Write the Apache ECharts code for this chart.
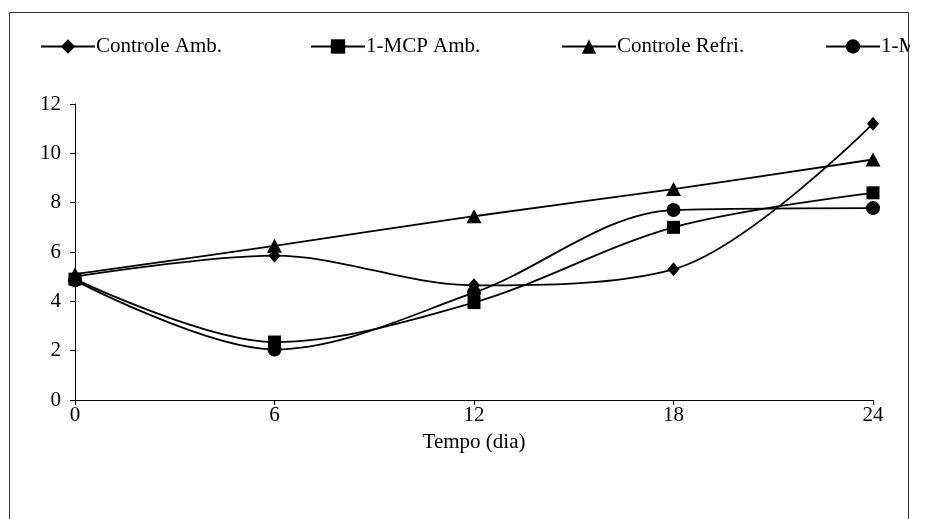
<!DOCTYPE html>
<html>
<head>
<meta charset="utf-8">
<script src="https://cdn.jsdelivr.net/npm/echarts@6/dist/echarts.min.js"></script>
<style>
  html, body { margin: 0; padding: 0; background: #fff; }
  #chart { width: 910px; height: 519px; }
</style>
</head>
<body>
<div id="chart"></div>
<script>
// Days of storage
const days = [0, 6, 12, 18, 24];
// Series values per day
const controleAmb = [5.0, 5.85, 4.65, 5.3, 11.2];
const mcpAmb = [4.9, 2.35, 3.95, 7.0, 8.4];
const controleRefri = [5.1, 6.25, 7.45, 8.55, 9.75];
const mcpRefri = [4.85, 2.05, 4.35, 7.7, 7.78];
// Axis ticks
const xTicks = [0, 6, 12, 18, 24];
const yTicks = [0, 2, 4, 6, 8, 10, 12];

const seriesNames = ['Controle Amb.', '1-MCP Amb.', 'Controle Refri.', '1-MCP Refri.'];
const seriesValues = [controleAmb, mcpAmb, controleRefri, mcpRefri];
const seriesSymbols = ['diamond', 'rect', 'triangle', 'circle'];
const symbolSizes = [[12, 14], 13, [15, 14], 14];
const legendLeft = [40, 310, 561, 825];

const font = '"Liberation Serif", "Times New Roman", serif';

const chart = echarts.init(document.getElementById('chart'), null, { renderer: 'canvas' });

const option = {
  backgroundColor: '#fff',
  animation: false,
  textStyle: { fontFamily: font, color: '#000' },
  graphic: [{
    type: 'rect',
    shape: { x: 9.5, y: 12.5, width: 899, height: 530 },
    style: { fill: 'none', stroke: '#333', lineWidth: 1 },
    silent: true
  }],
  legend: seriesNames.map((name, i) => ({
    data: [name],
    left: legendLeft[i],
    top: 36,
    itemWidth: 54,
    itemHeight: 18,
    padding: 0,
    textStyle: { fontFamily: font, fontSize: 21, color: '#000', padding: [0, 0, 0, -4] }
  })),
  grid: { left: 75, right: 37, top: 104, bottom: 119, containLabel: false },
  xAxis: {
    type: 'value',
    min: xTicks[0],
    max: xTicks[xTicks.length - 1],
    interval: xTicks[1] - xTicks[0],
    name: 'Tempo (dia)',
    nameLocation: 'middle',
    nameGap: 32,
    nameTextStyle: { fontFamily: font, fontSize: 21, color: '#000' },
    axisLine: { lineStyle: { color: '#000', width: 1 } },
    axisTick: { show: true, inside: false, length: 5, lineStyle: { color: '#000' } },
    axisLabel: { fontFamily: font, fontSize: 21, color: '#000', margin: 5 },
    splitLine: { show: false }
  },
  yAxis: {
    type: 'value',
    min: yTicks[0],
    max: yTicks[yTicks.length - 1],
    interval: yTicks[1] - yTicks[0],
    axisLine: { show: true, lineStyle: { color: '#000', width: 1 } },
    axisTick: { show: true, inside: false, length: 5, lineStyle: { color: '#000' } },
    axisLabel: { fontFamily: font, fontSize: 21, color: '#000', margin: 14 },
    splitLine: { show: false }
  },
  series: seriesNames.map((name, i) => ({
    name: name,
    type: 'line',
    data: days.map((d, j) => [d, seriesValues[i][j]]),
    smooth: 0.33,
    symbol: seriesSymbols[i],
    symbolSize: symbolSizes[i],
    showAllSymbol: true,
    color: '#000',
    lineStyle: { color: '#000', width: 1.8 },
    itemStyle: { color: '#000', borderWidth: 0 },
    z: 2 + i
  }))
};

chart.setOption(option);
</script>
</body>
</html>
